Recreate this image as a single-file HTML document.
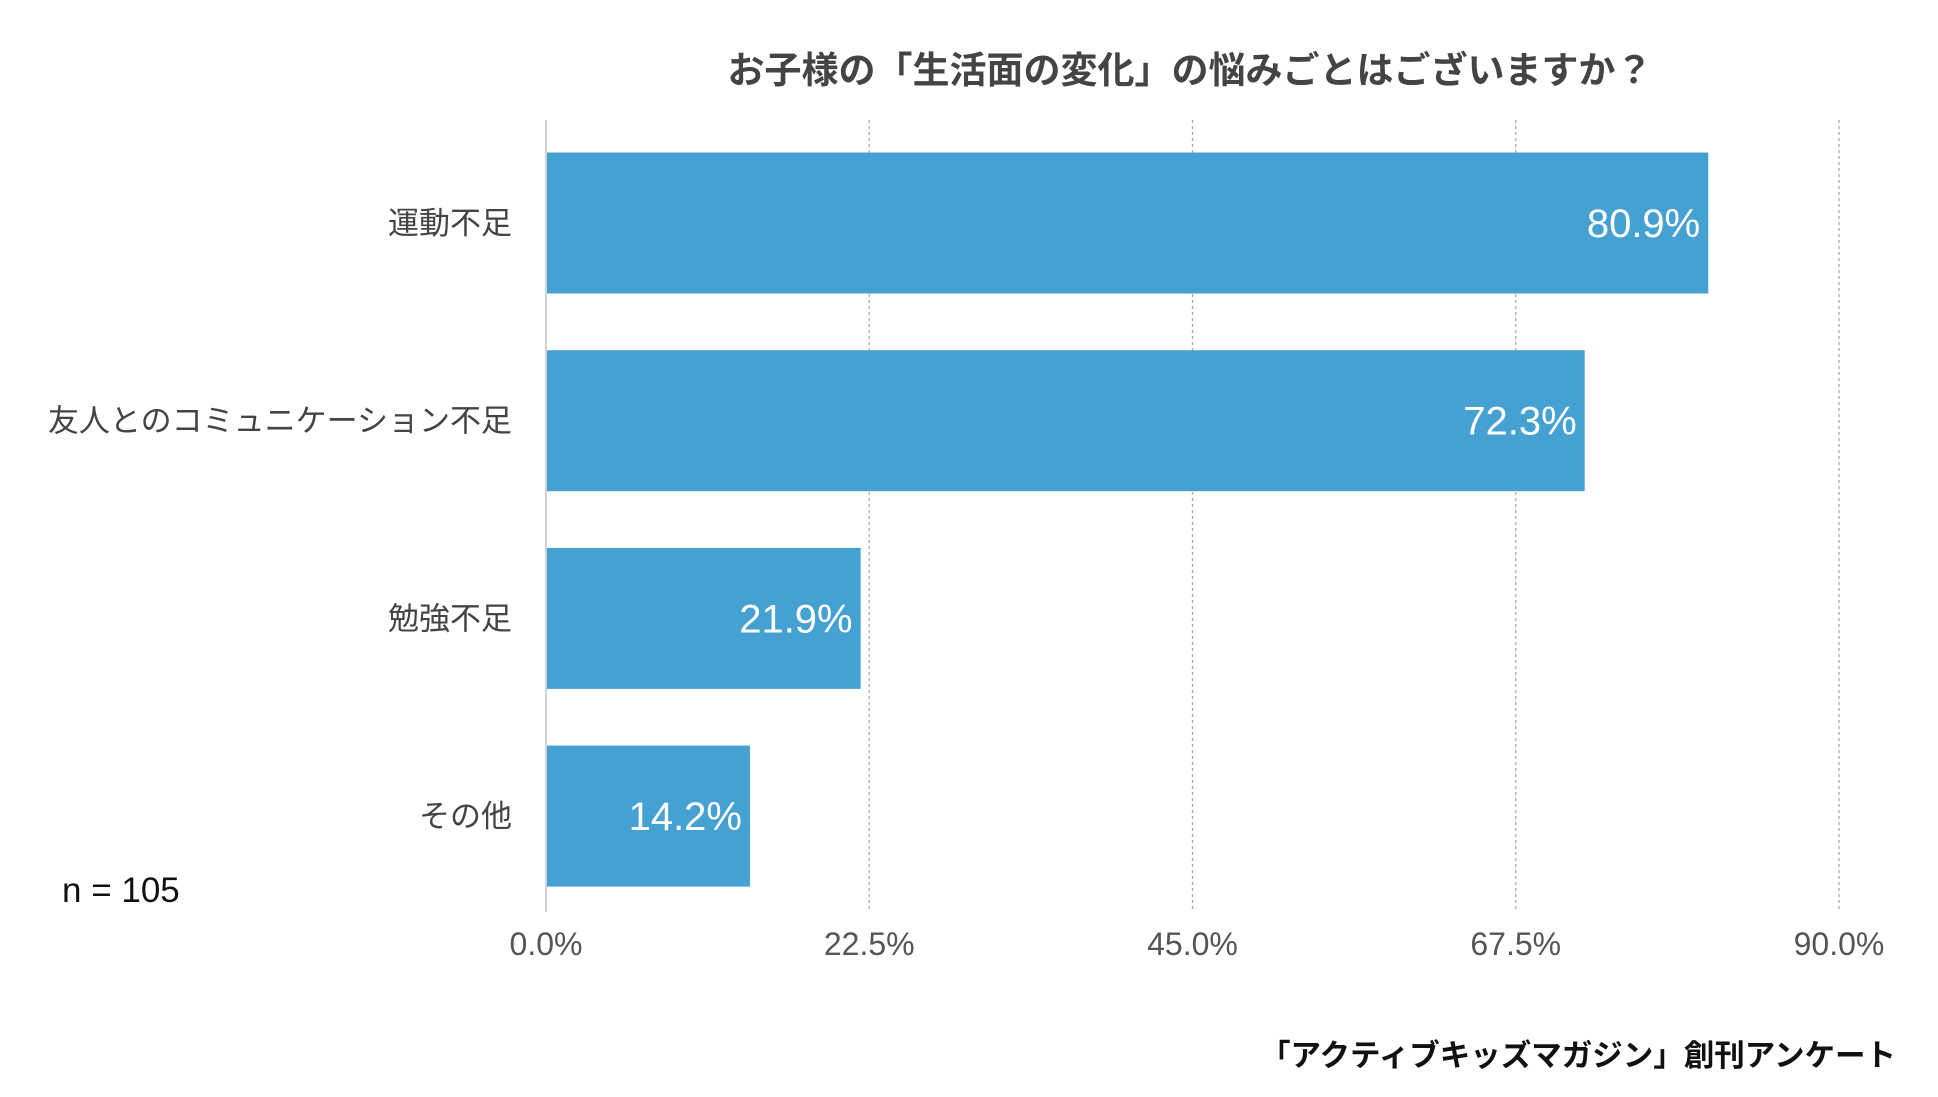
<!DOCTYPE html>
<html><head><meta charset="utf-8"><style>
body{margin:0;background:#fff;}
svg text{font-family:"Liberation Sans","Noto Sans CJK JP",sans-serif;}
</style></head><body>
<svg width="1938" height="1092" xmlns="http://www.w3.org/2000/svg">
<text x="1190" y="83" text-anchor="middle" font-size="37" font-weight="bold" fill="#444">お子様の「生活面の変化」の悩みごとはございますか？</text>
<g id="grid"></g><g id="bars"></g>
<text x="62" y="902" font-size="35" fill="#111">n = 105</text>
<text x="1896" y="1066" text-anchor="end" font-size="30.5" font-weight="bold" fill="#111">「アクティブキッズマガジン」創刊アンケート</text>
</svg>
<script>
const categories=["運動不足","友人とのコミュニケーション不足","勉強不足","その他"];
const values=[80.9,72.3,21.9,14.2];
const ticks=[0,22.5,45,67.5,90];
const NS="http://www.w3.org/2000/svg";
const x0=546,x1=1839,xmax=90;
const xs=v=>x0+(x1-x0)*v/xmax;
const plotTop=120,plotBottom=912,firstCenter=223,step=197.7,barH=141;
const g=document.getElementById('grid'),b=document.getElementById('bars');
function mk(tag,a,p){const e=document.createElementNS(NS,tag);for(const k in a)e.setAttribute(k,a[k]);p.appendChild(e);return e;}
ticks.forEach((t,i)=>{
 const l=mk('line',{x1:xs(t),x2:xs(t),y1:plotTop,y2:plotBottom,stroke:i?'#aaa':'#bbb','stroke-width':1.3,'stroke-dasharray':i?'3,3':'none'},g);
 
 
 const tx=mk('text',{x:xs(t),y:955,'text-anchor':'middle','font-size':32,fill:'#555'},g);
 tx.textContent=t.toFixed(1)+'%';
 
 
});
categories.forEach((c,i)=>{
 const cy=firstCenter+step*i;
 const r=mk('rect',{x:x0+1,y:cy-barH/2,width:xs(values[i])-x0-1,height:barH,fill:'#46a1d3'},b);
 
 
 const lab=mk('text',{x:512,y:cy+11,'text-anchor':'end','font-size':31,fill:'#444'},b);
 lab.textContent=c;
 
 
 const v=mk('text',{x:xs(values[i])-8,y:cy+14,'text-anchor':'end','font-size':40,fill:'#fff'},b);
 v.textContent=values[i].toFixed(1)+'%';
 
 
});
</script>
</body></html>
